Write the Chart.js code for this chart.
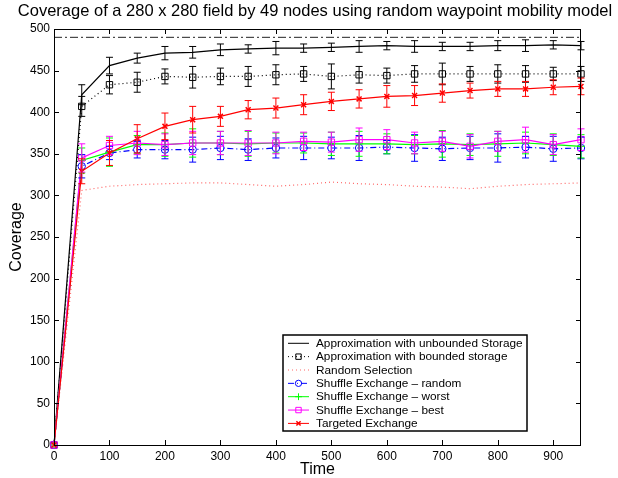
<!DOCTYPE html>
<html>
<head>
<meta charset="utf-8">
<script src="https://cdn.jsdelivr.net/npm/chart.js@4.4.0/dist/chart.umd.min.js"></script>
<style>
  html, body { margin: 0; padding: 0; background: #fff; }
  #wrap { width: 618px; height: 478px; }
</style>
</head>
<body>
<div id="wrap"><canvas id="coverageChart" width="618" height="478"></canvas></div>
<script>
// --- data ---
const chartTitle = 'Coverage of a 280 x 280 field by 49 nodes using random waypoint mobility model';
const times = [0, 50, 100, 150, 200, 250, 300, 350, 400, 450, 500, 550, 600, 650, 700, 750, 800, 850, 900, 950];

const unbounded    = [0, 421, 456, 465, 471, 472, 475, 476, 477, 477, 478, 479, 480, 479, 479, 479, 480, 480, 481, 480];
const unboundedErr = [0, 12, 10, 6, 8, 7, 7, 5, 8, 5, 5, 7, 5, 7, 5, 5, 6, 7, 5, 5];

const bounded    = [0, 407, 433, 436, 443, 442, 443, 443, 445, 446, 443, 445, 444, 446, 446, 446, 446, 446, 446, 446];
const boundedErr = [0, 12, 11, 12, 9, 13, 10, 12, 12, 9, 15, 10, 9, 10, 13, 9, 11, 10, 8, 9];

const randomSel = [0, 306, 311, 313, 314, 315, 315, 313, 311, 313, 316, 314, 313, 311, 310, 308, 311, 313, 314, 315];

const shuffleRandom    = [0, 335, 351, 355, 355, 355, 357, 355, 357, 357, 357, 357, 358, 357, 356, 357, 357, 358, 356, 357];
const shuffleRandomErr = [0, 14, 8, 10, 11, 15, 14, 13, 12, 14, 13, 15, 8, 16, 14, 14, 17, 13, 15, 13];

const shuffleWorst    = [0, 342, 352, 361, 361, 363, 363, 362, 363, 363, 362, 362, 362, 361, 362, 361, 362, 363, 361, 359];
const shuffleWorstErr = [0, 15, 17, 11, 14, 17, 14, 15, 12, 12, 14, 15, 12, 11, 16, 13, 15, 13, 13, 14];

const shuffleBest    = [0, 345, 360, 363, 361, 363, 363, 363, 363, 365, 364, 367, 367, 363, 365, 359, 365, 367, 361, 367];
const shuffleBestErr = [0, 17, 11, 14, 13, 14, 14, 15, 13, 11, 12, 14, 12, 13, 12, 14, 12, 15, 12, 13];

const targeted    = [0, 329, 351, 368, 383, 391, 395, 403, 405, 409, 413, 416, 419, 420, 423, 426, 428, 428, 430, 431];
const targetedErr = [0, 15, 15, 17, 16, 16, 12, 11, 12, 12, 11, 11, 13, 12, 11, 9, 9, 9, 9, 10];

// horizontal reference line (dash-dot) at the top
const limitTimes = [0, 950];
const limitValues = [490, 490];

const yTicks = [0, 50, 100, 150, 200, 250, 300, 350, 400, 450, 500];
const xTicks = [0, 100, 200, 300, 400, 500, 600, 700, 800, 900];

const FONT = "'Liberation Sans', Arial, Helvetica, sans-serif";

function pts(xs, ys) { return xs.map((t, i) => ({ x: t, y: ys[i] })); }

function series(label, values, errors, color, dash, style, radius, extra) {
    return Object.assign({
        label: label,
        data: pts(times, values),
        errors: errors,
        borderColor: color,
        borderWidth: 1.2,
        borderDash: dash,
        pointStyle: style || 'circle',
        pointRadius: style ? radius : 0,
        pointBorderColor: color,
        pointBackgroundColor: 'rgba(0,0,0,0)',
        pointBorderWidth: 1,
        tension: 0,
        fill: false,
        clip: false
    }, extra || {});
}

const datasets = [
    series('Approximation with unbounded Storage', unbounded, unboundedErr, '#000000', [], null, 0),
    series('Approximation with bounded storage', bounded, boundedErr, '#000000', [1, 3], 'rect', 4.5),
    series('Random Selection', randomSel, null, 'rgba(255,0,0,0.6)', [1, 3], null, 0),
    series('Shuffle Exchange \u2013 random', shuffleRandom, shuffleRandomErr, '#0000ff', [6, 3, 1, 3], 'circle', 3.7),
    series('Shuffle Exchange \u2013 worst', shuffleWorst, shuffleWorstErr, '#00ff00', [], 'cross', 4),
    series('Shuffle Exchange \u2013 best', shuffleBest, shuffleBestErr, '#ff00ff', [], 'rect', 4.5),
    series('Targeted Exchange', targeted, targetedErr, '#ff0000', [], 'crossRot', 3.5, { pointBorderWidth: 1.5 })
];
datasets.forEach((d, i) => { d.order = 20 - i; });
datasets.push({
    label: 'limit',
    legendHidden: true,
    data: pts(limitTimes, limitValues),
    borderColor: '#222222',
    borderWidth: 1,
    borderDash: [8, 3, 2, 3],
    pointRadius: 0,
    tension: 0,
    clip: false,
    order: 30
});

// --- plugins: error bars, frame with inward ticks, title, legend box ---
const errorBars = {
    id: 'errorBars',
    afterDatasetsDraw(chart) {
        const { ctx, scales: { x, y } } = chart;
        chart.data.datasets.forEach(ds => {
            if (!ds.errors) return;
            ctx.save();
            ctx.strokeStyle = ds.borderColor;
            ctx.lineWidth = 1;
            ds.data.forEach((p, i) => {
                const e = ds.errors[i];
                if (!e) return;
                const px = x.getPixelForValue(p.x);
                const top = y.getPixelForValue(p.y + e);
                const bot = y.getPixelForValue(p.y - e);
                ctx.beginPath();
                ctx.moveTo(px, top); ctx.lineTo(px, bot);
                ctx.moveTo(px - 3.5, top); ctx.lineTo(px + 3.5, top);
                ctx.moveTo(px - 3.5, bot); ctx.lineTo(px + 3.5, bot);
                ctx.stroke();
            });
            ctx.restore();
        });
    }
};

const frameTicks = {
    id: 'frameTicks',
    afterDraw(chart) {
        const { ctx, chartArea: a, scales: { x, y } } = chart;
        ctx.save();
        ctx.strokeStyle = '#000';
        ctx.lineWidth = 1;
        ctx.strokeRect(a.left + 0.5, a.top + 0.5, a.right - a.left - 1, a.bottom - a.top);
        ctx.beginPath();
        xTicks.forEach(v => {
            const px = Math.round(x.getPixelForValue(v)) + 0.5;
            ctx.moveTo(px, a.bottom); ctx.lineTo(px, a.bottom - 5);
            ctx.moveTo(px, a.top); ctx.lineTo(px, a.top + 5);
        });
        yTicks.forEach(v => {
            const py = Math.round(y.getPixelForValue(v)) + 0.5;
            ctx.moveTo(a.left, py); ctx.lineTo(a.left + 5, py);
            ctx.moveTo(a.right, py); ctx.lineTo(a.right - 5, py);
        });
        ctx.stroke();

        // title
        ctx.fillStyle = '#000';
        ctx.font = '16.5px ' + FONT;
        ctx.textAlign = 'center';
        ctx.textBaseline = 'alphabetic';
        ctx.fillText(chartTitle, 315, 16);
        ctx.restore();
    }
};

const legendBox = {
    id: 'legendBox',
    afterDraw(chart) {
        const ctx = chart.ctx;
        const items = chart.data.datasets.filter(d => !d.legendHidden);
        const box = { left: 283, top: 335, width: 244, height: 96 };
        ctx.save();
        ctx.fillStyle = '#fff';
        ctx.fillRect(box.left, box.top, box.width, box.height);
        ctx.strokeStyle = '#000';
        ctx.lineWidth = 1.5;
        ctx.strokeRect(box.left, box.top, box.width, box.height);
        items.forEach((d, i) => {
            const cy = 343.3 + i * 13.35;
            ctx.save();
            ctx.strokeStyle = d.borderColor;
            ctx.lineWidth = 1;
            ctx.setLineDash(d.borderDash || []);
            ctx.beginPath();
            ctx.moveTo(288, cy); ctx.lineTo(309, cy);
            ctx.stroke();
            ctx.restore();
            if (d.pointRadius > 0) {
                ctx.save();
                ctx.strokeStyle = d.pointBorderColor;
                ctx.fillStyle = 'rgba(0,0,0,0)';
                ctx.lineWidth = d.pointBorderWidth;
                Chart.helpers.drawPoint(ctx, {
                    pointStyle: d.pointStyle, rotation: 0,
                    radius: d.pointRadius * 0.85, borderWidth: d.pointBorderWidth
                }, 298.5, cy);
                ctx.restore();
            }
            ctx.fillStyle = '#000';
            ctx.font = '11.8px ' + FONT;
            ctx.textAlign = 'left';
            ctx.textBaseline = 'middle';
            ctx.fillText(d.label, 316, cy + 0.5);
        });
        ctx.restore();
    }
};

Chart.defaults.font.family = FONT;
Chart.defaults.font.size = 12;
Chart.defaults.color = '#000';

new Chart(document.getElementById('coverageChart'), {
    type: 'line',
    data: { datasets: datasets },
    options: {
        responsive: false,
        animation: false,
        devicePixelRatio: 1,
        layout: { padding: { top: 29, right: 37, bottom: 0, left: 0 } },
        plugins: {
            legend: { display: false },
            tooltip: { enabled: false },
            title: { display: false }
        },
        scales: {
            x: {
                type: 'linear',
                min: 0, max: 950,
                grid: { display: false, drawTicks: false },
                border: { display: false },
                afterBuildTicks: s => { s.ticks = xTicks.map(v => ({ value: v })); },
                ticks: {
                    autoSkip: false, maxRotation: 0, padding: 4,
                    color: '#000', font: { size: 12 }
                },
                title: { display: true, text: 'Time', color: '#000', font: { size: 16, lineHeight: 1 }, padding: { top: 0, bottom: 0 } },
                afterFit: s => { s.height = 33; }
            },
            y: {
                min: 0, max: 500,
                grid: { display: false, drawTicks: false },
                border: { display: false },
                afterBuildTicks: s => { s.ticks = yTicks.map(v => ({ value: v })); },
                ticks: {
                    autoSkip: false, padding: 4,
                    color: '#000', font: { size: 12 }
                },
                title: { display: true, text: 'Coverage', color: '#000', font: { size: 16, lineHeight: 1 }, padding: { top: 9, bottom: 0 } },
                afterFit: s => { s.width = 54; }
            }
        }
    },
    plugins: [errorBars, frameTicks, legendBox]
});
</script>
</body>
</html>
